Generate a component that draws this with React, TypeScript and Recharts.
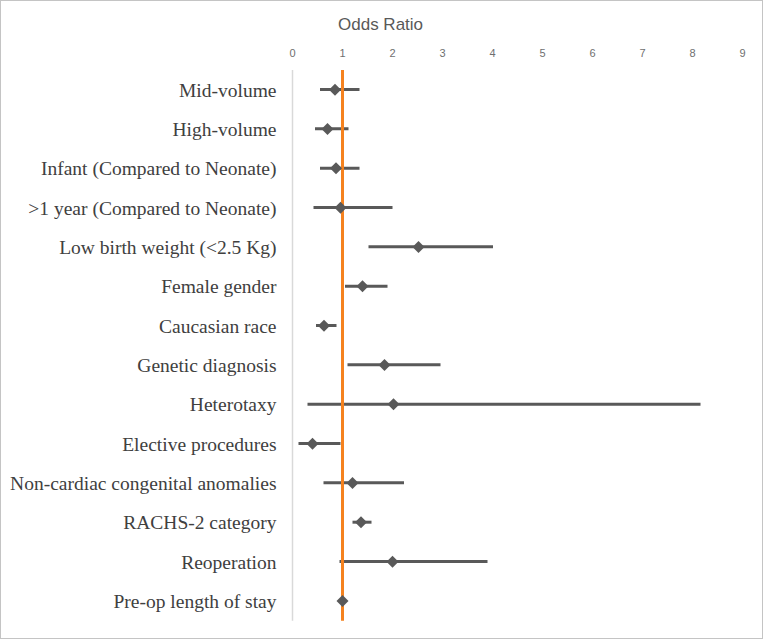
import React from "react";
import {
  ComposedChart,
  Bar,
  Scatter,
  XAxis,
  YAxis,
  ReferenceLine,
} from "recharts";

const factors = [
  "Mid-volume",
  "High-volume",
  "Infant (Compared to Neonate)",
  ">1 year (Compared to Neonate)",
  "Low birth weight (<2.5 Kg)",
  "Female gender",
  "Caucasian race",
  "Genetic diagnosis",
  "Heterotaxy",
  "Elective procedures",
  "Non-cardiac congenital anomalies",
  "RACHS-2 category",
  "Reoperation",
  "Pre-op length of stay",
];

const oddsRatio = [0.85, 0.7, 0.87, 0.96, 2.52, 1.4, 0.63, 1.84, 2.02, 0.4, 1.2, 1.37, 2.0, 1.0];
const lowerCI = [0.55, 0.45, 0.55, 0.42, 1.52, 1.05, 0.47, 1.1, 0.3, 0.12, 0.62, 1.2, 0.94, 0.97];
const upperCI = [1.34, 1.12, 1.34, 2.0, 4.01, 1.9, 0.88, 2.96, 8.16, 0.96, 2.23, 1.58, 3.9, 1.03];

const xTicks = [0, 1, 2, 3, 4, 5, 6, 7, 8, 9];

const rows = factors.map((name, i) => ({
  name,
  or: oddsRatio[i],
  ci: [lowerCI[i], upperCI[i]],
}));

const Diamond = (props: any) => {
  const { cx, cy } = props;
  const r = 6;
  return (
    <path
      d={`M${cx},${cy - r}L${cx + r},${cy}L${cx},${cy + r}L${cx - r},${cy}Z`}
      fill="#595959"
    />
  );
};

export default function App() {
  return (
    <div
      style={{
        position: "absolute",
        left: 0,
        top: 0,
        width: 763,
        height: 639,
        boxSizing: "border-box",
        border: "1px solid #c4c4c4",
        background: "#fff",
      }}
    >
      <div
        style={{
          position: "absolute",
          left: 337,
          top: 14,
          fontFamily: "'Liberation Sans', Arial, sans-serif",
          fontSize: 17,
          color: "#595959",
          whiteSpace: "nowrap",
        }}
      >
        Odds Ratio
      </div>
      <ComposedChart
        width={761}
        height={637}
        data={rows}
        layout="vertical"
        margin={{ top: 39, right: 19.5, bottom: 17.3, left: -1 }}
        style={{ position: "absolute", left: 0, top: 0 }}
      >
        <XAxis
          type="number"
          orientation="top"
          domain={[0, 9]}
          ticks={xTicks}
          interval={0}
          height={30}
          axisLine={false}
          tickLine={false}
          tickSize={0}
          tickMargin={13}
          tick={{ fontSize: 11, fill: "#6f6f6f", fontFamily: "'Liberation Sans', Arial, sans-serif" }}
        />
        <YAxis
          type="category"
          dataKey="name"
          width={292.5}
          interval={0}
          axisLine={{ stroke: "#d9d9d9", strokeWidth: 1.5 }}
          tickLine={false}
          tickSize={0}
          tickMargin={16}
          tick={{ fontSize: 19.5, fill: "#404040", fontFamily: "'Liberation Serif', 'Times New Roman', serif" }}
        />
        <Bar dataKey="ci" barSize={3} fill="#595959" isAnimationActive={false} />
        <ReferenceLine x={1} stroke="#F5821F" strokeWidth={3} />
        <Scatter dataKey="or" shape={Diamond} isAnimationActive={false} />
      </ComposedChart>
    </div>
  );
}
